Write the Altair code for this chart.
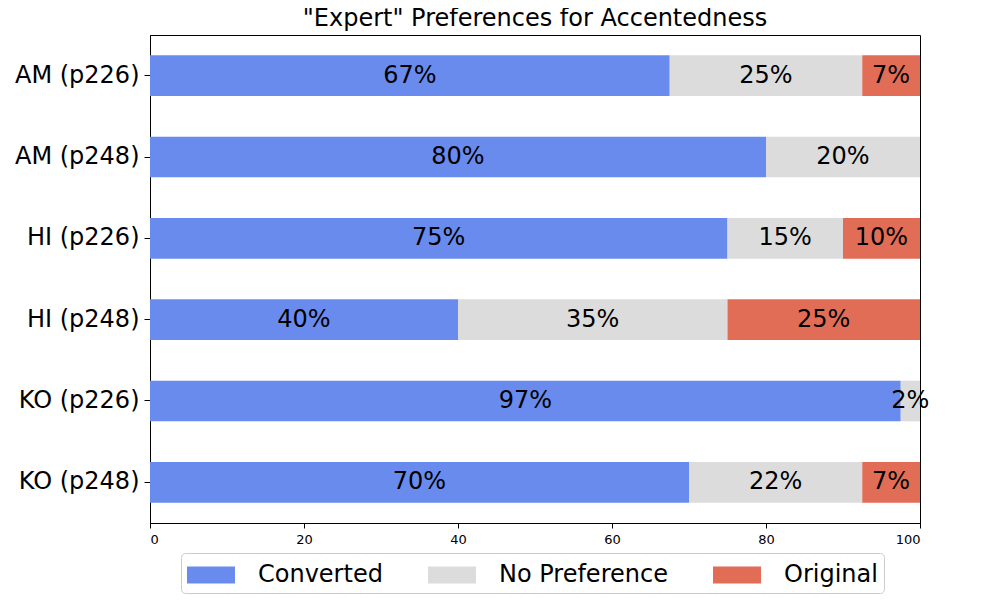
import altair as alt
import pandas as pd

categories = ["AM (p226)", "AM (p248)", "HI (p226)", "HI (p248)", "KO (p226)", "KO (p248)"]
converted = [67.5, 80, 75, 40, 97.5, 70]
no_preference = [25, 20, 15, 35, 2.5, 22.5]
original = [7.5, 0, 10, 25, 0, 7.5]
series_names = ["Converted", "No Preference", "Original"]
series_colors = ["#6A8BEE", "#DCDCDC", "#E26D56"]
x_ticks = [0, 20, 40, 60, 80, 100]

rows = []
for i, cat in enumerate(categories):
    start = 0.0
    for name, vals in zip(series_names, [converted, no_preference, original]):
        v = vals[i]
        rows.append({
            "cat": cat, "series": name, "value": v,
            "start": start, "end": start + v, "mid": start + v / 2,
            "label": f"{int(v)}%",
        })
        start += v
df = pd.DataFrame(rows)

FONT = "DejaVu Sans"
FS = 24

y_enc = alt.Y("cat:N", sort=categories,
              scale=alt.Scale(paddingInner=0.5, paddingOuter=0.25),
              axis=alt.Axis(title=None, labelFontSize=FS, labelColor="black",
                            tickSize=6, tickColor="black", labelPadding=5,
                            domainColor="black", labelFont=FONT))

x_scale = alt.Scale(domain=[0, 100], nice=False, zero=True)

bars = alt.Chart(df).mark_bar(strokeWidth=0).encode(
    x=alt.X("start:Q", scale=x_scale,
            axis=alt.Axis(title=None, values=x_ticks, grid=False, labelFontSize=13,
                          labelColor="black", tickColor="black", tickSize=5,
                          domainColor="black", labelFont=FONT, labelPadding=5)),
    x2="end:Q",
    y=y_enc,
    color=alt.Color("series:N",
                    scale=alt.Scale(domain=series_names, range=series_colors),
                    legend=alt.Legend(
                        title=None, orient="none", legendX=31, legendY=518,
                        direction="horizontal", columns=3,
                        symbolType="M-1.5,-0.53L1.5,-0.53L1.5,0.53L-1.5,0.53Z",
                        symbolSize=1024, symbolStrokeWidth=0, symbolOffset=8,
                        labelFontSize=FS, labelFont=FONT, labelColor="black",
                        labelLimit=400,
                        labelOffset=31, columnPadding=45, padding=6,
                        strokeColor="#cccccc", cornerRadius=4, fillColor="white")),
)

texts = alt.Chart(df).transform_filter("datum.value > 0").mark_text(
    fontSize=FS, font=FONT, color="black", baseline="middle", align="center"
).encode(
    x=alt.X("mid:Q", scale=x_scale),
    y=alt.Y("cat:N", sort=categories),
    text="label:N",
)

chart = alt.layer(bars, texts).properties(
    width=770, height=488,
    title=alt.TitleParams('"Expert" Preferences for Accentedness', fontSize=FS,
                          fontWeight="normal", font=FONT, anchor="middle",
                          offset=4, color="black"),
    autosize=alt.AutoSizeParams(type="none"),
    padding={"left": 142, "top": 27, "right": 60, "bottom": 80},
).configure(
    font=FONT,
    view=alt.ViewConfig(stroke="black", strokeWidth=1),
)

chart.save("out.html", embed_options={"renderer": "svg", "actions": False})
